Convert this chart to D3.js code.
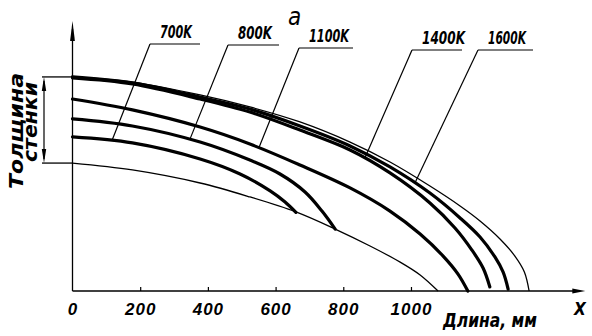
<!DOCTYPE html>
<html>
<head>
<meta charset="utf-8">
<script src="https://cdn.jsdelivr.net/npm/d3@7"></script>
<style>
  html, body { margin: 0; padding: 0; background: #fff; }
  svg { display: block; }
  text { font-family: "Liberation Sans Narrow", "DejaVu Sans Condensed", sans-serif; font-style: italic; font-weight: bold; fill: #000; }
</style>
</head>
<body>
<svg id="chart" width="592" height="336"></svg>
<script>
// Length axis ticks, mm
const xTicks = [0, 200, 400, 600, 800, 1000];

// Temperature of each wall-thickness profile
const temperatures = ["700K", "800K", "1100K", "1400K", "1600K"];

// Profiles: length along the part (mm) and wall position (relative units)
const len700  = [0, 177, 377, 495, 584, 628, 660];
const wall700 = [71.9, 69.1, 61.6, 54.6, 46.7, 41.5, 36.7];

const len800  = [0, 177, 377, 524, 613, 687, 737, 776];
const wall800 = [80.3, 77.0, 69.5, 61.1, 54.6, 46.2, 37.3, 28.9];

const len1100  = [0, 177, 377, 524, 672, 820, 938, 1027, 1095, 1139, 1168];
const wall1100 = [89.6, 84.5, 76.5, 68.6, 58.8, 48.1, 37.3, 26.6, 16.3, 7.9, 0];

const len1400  = [0, 177, 377, 524, 672, 820, 938, 1056, 1130, 1180, 1213, 1233];
const wall1400 = [99.4, 96.6, 89.6, 83.5, 75.1, 65.8, 55.1, 41.1, 29.4, 19.1, 10.7, 1.9];

const len1600  = [0, 177, 377, 524, 672, 820, 938, 1056, 1145, 1204, 1248, 1272, 1287];
const wall1600 = [99.9, 97.1, 90.5, 84.9, 77.0, 67.7, 57.9, 45.7, 34.1, 25.2, 15.9, 8.9, 0.9];

// Outer and inner contour of the blank
const outerLen  = [0, 177, 377, 524, 672, 820, 938, 1056, 1145, 1204, 1263, 1307, 1335, 1349];
const outerWall = [99.9, 97.5, 91.5, 85.9, 78.9, 69.5, 60.2, 49.0, 39.7, 32.7, 24.3, 16.3, 8.9, 0];

const innerLen  = [0, 177, 377, 524, 660, 776, 879, 968, 1027, 1080];
const innerWall = [59.7, 56.5, 50.4, 43.9, 36.9, 28.9, 21.0, 13.5, 7.5, 0];

// Length (mm) at which each callout touches its profile
const leaderAt = [117, 347, 551, 864, 1012];

const svg = d3.select("#chart");

const x = d3.scaleLinear().domain([0, 1515]).range([72.5, 585.3]);
const y = d3.scaleLinear().domain([0, 126]).range([291, 21]);

const zip = (a, b) => a.map((v, i) => [v, b[i]]);
const line = d3.line().x(d => x(d[0])).y(d => y(d[1])).curve(d3.curveCatmullRom.alpha(0.5));

const profiles = [
  zip(len700, wall700),
  zip(len800, wall800),
  zip(len1100, wall1100),
  zip(len1400, wall1400),
  zip(len1600, wall1600)
];

// --- contours (thin)
svg.append("path").attr("d", line(zip(outerLen, outerWall)))
  .attr("fill", "none").attr("stroke", "#000").attr("stroke-width", 1.3);
svg.append("path").attr("d", line(zip(innerLen, innerWall)))
  .attr("fill", "none").attr("stroke", "#000").attr("stroke-width", 1.3);

// --- temperature profiles (thick)
const profPaths = svg.append("g").selectAll("path").data(profiles).join("path")
  .attr("d", d => line(d))
  .attr("fill", "none").attr("stroke", "#000").attr("stroke-width", 3.2)
  .attr("stroke-linecap", "round");

// --- axes
const xAxis = d3.axisBottom(x).tickValues(xTicks).tickFormat(d3.format("d"))
  .tickSizeInner(-4).tickSizeOuter(0).tickPadding(12);
const gx = svg.append("g").attr("transform", `translate(0,${y(0)})`).call(xAxis);
gx.select(".domain").remove();
gx.selectAll(".tick line").attr("stroke", "#000").attr("stroke-width", 1.2);
gx.selectAll(".tick text")
  .style("font-family", '"Liberation Sans Narrow", sans-serif')
  .style("font-style", "italic").style("font-weight", "bold")
  .style("letter-spacing", "1px")
  .attr("font-size", 17).attr("fill", "#000");
gx.selectAll(".tick").filter(d => d === 0).select("line").remove();

// axis lines with arrowheads
svg.append("line").attr("x1", x(0)).attr("x2", x(1515) - 6).attr("y1", y(0)).attr("y2", y(0))
  .attr("stroke", "#000").attr("stroke-width", 1.3);
svg.append("path")
  .attr("d", `M${x(1515)},${y(0)} L${x(1515) - 13},${y(0) - 2.6} L${x(1515) - 13},${y(0) + 2.6} Z`)
  .attr("fill", "#000");

svg.append("line").attr("x1", x(0)).attr("x2", x(0)).attr("y1", y(0)).attr("y2", y(126) + 8)
  .attr("stroke", "#000").attr("stroke-width", 1.3);
svg.append("path")
  .attr("d", `M${x(0)},${y(126)} L${x(0) - 2.4},${y(126) + 20} L${x(0) + 2.4},${y(126) + 20} Z`)
  .attr("fill", "#000");

svg.append("text").attr("x", 580).attr("y", 315).attr("text-anchor", "middle")
  .attr("font-size", 17).text("X");
svg.append("text").attr("x", 443).attr("y", 327).attr("font-size", 20)
  .attr("textLength", 94).attr("lengthAdjust", "spacingAndGlyphs").text("Длина, мм");

svg.append("text").attr("x", 288).attr("y", 25).attr("font-size", 24)
  .style("font-weight", "normal").text("а");

// --- wall thickness dimension
const dimX = 44;
const yTop = y(outerWall[0]), yBot = y(innerWall[0]);
svg.append("line").attr("x1", dimX - 2).attr("x2", x(0)).attr("y1", yTop).attr("y2", yTop)
  .attr("stroke", "#000").attr("stroke-width", 1.3);
svg.append("line").attr("x1", dimX - 2).attr("x2", x(0)).attr("y1", yBot).attr("y2", yBot)
  .attr("stroke", "#000").attr("stroke-width", 1.3);
svg.append("line").attr("x1", dimX).attr("x2", dimX).attr("y1", yTop + 4).attr("y2", yBot - 4)
  .attr("stroke", "#000").attr("stroke-width", 1.2);
svg.append("path")
  .attr("d", `M${dimX},${yTop} L${dimX - 2.2},${yTop + 14} L${dimX + 2.2},${yTop + 14} Z
              M${dimX},${yBot} L${dimX - 2.2},${yBot - 14} L${dimX + 2.2},${yBot - 14} Z`)
  .attr("fill", "#000");

svg.append("text").attr("transform", "translate(23,131) rotate(-90)")
  .attr("text-anchor", "middle").attr("font-size", 19)
  .attr("textLength", 116).attr("lengthAdjust", "spacingAndGlyphs").text("Толщина");
svg.append("text").attr("transform", "translate(37,122) rotate(-90)")
  .attr("text-anchor", "middle").attr("font-size", 19)
  .attr("textLength", 80).attr("lengthAdjust", "spacingAndGlyphs").text("стенки");

// --- callouts: underline position, length and text width
const callouts = [
  { ux: 150, uy: 44, w: 50, tw: 32 },
  { ux: 228, uy: 45, w: 51, tw: 34 },
  { ux: 299, uy: 48, w: 54, tw: 40 },
  { ux: 412, uy: 50, w: 50, tw: 43 },
  { ux: 478, uy: 50, w: 55, tw: 38 }
];

function pointAtX(node, px) {
  const L = node.getTotalLength();
  let lo = 0, hi = L;
  for (let i = 0; i < 40; i++) {
    const mid = (lo + hi) / 2;
    if (node.getPointAtLength(mid).x < px) lo = mid; else hi = mid;
  }
  return node.getPointAtLength((lo + hi) / 2);
}

const nodes = profPaths.nodes();
temperatures.forEach((t, i) => {
  const c = callouts[i];
  const p = pointAtX(nodes[i], x(leaderAt[i]));
  svg.append("line").attr("x1", c.ux).attr("y1", c.uy).attr("x2", c.ux + c.w).attr("y2", c.uy)
    .attr("stroke", "#000").attr("stroke-width", 1.2);
  svg.append("line").attr("x1", c.ux).attr("y1", c.uy).attr("x2", p.x).attr("y2", p.y)
    .attr("stroke", "#000").attr("stroke-width", 1.2);
  svg.append("text").attr("x", c.ux + 10).attr("y", c.uy - 6).attr("font-size", 17)
    .attr("textLength", c.tw).attr("lengthAdjust", "spacingAndGlyphs").text(t);
});
</script>
</body>
</html>
